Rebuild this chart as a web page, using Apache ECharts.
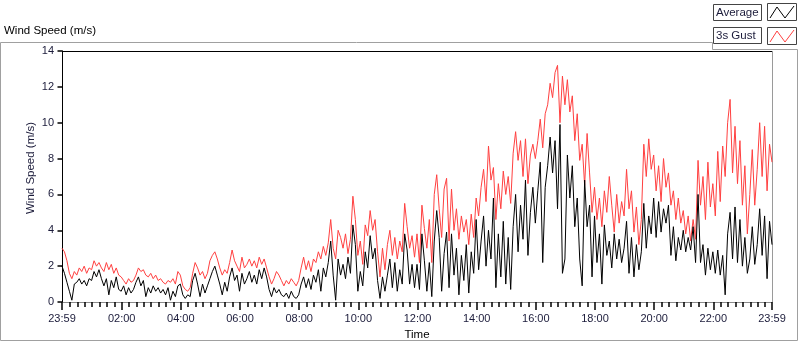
<!DOCTYPE html>
<html><head><meta charset="utf-8">
<script src="https://cdn.jsdelivr.net/npm/echarts@6/dist/echarts.min.js"></script>
<style>html,body{margin:0;padding:0;background:#fff}#c{width:800px;height:342px}</style>
</head><body><div id="c"></div>
<script>
const titleText = 'Wind Speed (m/s)';
const xAxisName = 'Time';
const yAxisName = 'Wind Speed (m/s)';
const seriesNames = ['Average', '3s Gust'];
const startMinute = -1;
const stepMinutes = 5;
const xLabelMinutes = [-1, 120, 240, 360, 480, 600, 720, 840, 960, 1080, 1200, 1320, 1439];
const yMin = 0, yMax = 14, yStep = 2;

const avg = [
2.0,1.6,1.1,0.6,0.1,1.0,1.1,1.3,1.0,1.2,0.9,1.3,
1.2,1.7,1.4,1.8,1.3,0.9,1.3,0.4,1.2,0.8,1.4,0.7,
0.6,0.9,0.4,0.8,0.5,0.7,1.1,1.4,0.9,1.2,0.3,0.8,
0.5,0.9,0.6,0.8,0.5,0.7,0.4,0.8,0.1,0.6,0.3,0.9,
1.0,0.4,0.2,0.4,0.3,1.2,1.6,1.0,0.3,1.0,0.5,0.9,
1.3,1.7,2.0,1.5,1.0,0.4,1.1,0.6,1.4,1.9,1.2,1.5,
0.6,1.6,1.0,1.3,1.7,1.1,1.5,1.0,1.8,1.3,1.9,1.4,
0.7,0.3,0.8,0.5,0.7,0.4,0.3,0.5,0.2,0.6,0.3,0.2,
0.4,1.0,1.4,0.8,1.3,0.7,1.5,1.1,1.8,0.6,1.9,1.4,
2.2,3.4,1.5,0.1,2.4,1.5,2.1,1.3,2.5,1.6,4.3,3.2,
0.6,1.7,0.9,2.8,1.9,3.7,2.4,3.0,1.2,0.2,1.4,0.6,
1.5,2.4,0.8,2.2,0.6,1.8,1.0,3.8,2.9,1.0,2.1,0.8,
2.1,0.7,3.8,2.3,0.6,2.2,0.3,3.4,5.1,3.6,0.6,2.7,
3.9,0.8,3.8,1.5,3.0,0.4,2.6,1.2,3.2,0.5,2.8,1.6,
4.6,1.8,3.4,4.8,2.0,4.0,2.4,5.8,0.8,3.8,1.4,4.5,
1.0,3.6,0.7,4.2,6.0,2.8,5.4,3.5,6.8,2.6,5.0,6.4,
4.4,6.2,7.8,2.2,6.4,7.6,9.2,7.2,9.0,5.2,9.9,1.6,
2.4,8.2,5.8,7.6,4.2,5.8,2.4,0.9,6.8,4.2,5.4,1.4,
4.8,2.2,3.8,1.0,4.3,2.6,3.4,1.9,3.8,2.4,3.5,2.2,
3.0,4.5,1.6,3.6,1.4,3.2,1.8,2.8,5.5,3.0,4.8,3.8,
5.8,3.6,5.6,3.9,5.2,4.4,5.4,2.6,4.2,2.3,3.6,2.9,
4.0,2.8,3.6,2.9,4.2,2.2,6.0,2.2,3.2,1.5,3.0,1.8,
2.8,1.6,2.9,1.5,2.6,0.4,3.8,5.0,2.4,5.3,2.2,4.6,
2.0,3.6,1.6,2.4,4.2,2.1,3.2,5.2,2.6,4.8,1.3,4.5,3.2
];

const gust = [
3.0,2.8,2.3,1.6,1.3,1.7,1.5,1.9,1.7,2.0,1.6,1.9,
1.8,2.3,2.0,2.2,1.9,1.7,2.2,1.8,2.1,1.6,1.9,1.5,
1.4,1.2,1.0,1.3,1.1,1.2,1.5,1.9,1.7,1.8,1.5,1.4,
1.6,1.3,1.5,1.2,1.3,1.1,1.0,1.2,1.1,1.3,1.0,1.7,
1.5,0.9,0.7,0.6,0.8,1.6,2.2,1.9,1.5,1.7,1.3,1.6,
2.3,2.6,2.8,2.4,1.9,1.5,1.8,1.6,2.2,2.9,2.3,2.0,
1.7,2.5,1.9,2.1,2.4,2.0,2.3,1.9,2.5,2.1,2.4,1.9,
1.4,1.0,1.3,1.7,1.5,1.2,0.9,1.2,1.0,1.3,1.1,0.9,
1.2,1.9,2.5,1.8,2.3,1.7,2.4,2.2,2.8,2.4,3.1,2.6,
3.3,4.6,3.0,2.4,4.0,3.6,3.0,3.8,2.7,3.5,5.9,4.6,
2.6,3.4,2.1,4.3,3.7,5.1,4.0,4.6,2.8,1.4,3.0,1.8,
3.2,4.0,2.6,3.6,2.4,3.4,2.8,5.5,4.2,3.0,3.7,2.5,
3.8,2.2,5.4,4.1,3.0,4.6,2.2,6.0,7.1,5.2,3.6,6.3,
6.9,3.4,6.3,4.0,5.2,3.5,4.8,3.9,4.6,3.2,4.9,3.6,
5.8,4.8,6.4,7.4,5.6,8.7,6.8,7.5,4.6,6.6,5.2,7.3,
6.0,7.0,5.5,8.3,9.5,7.9,9.0,7.0,9.1,6.6,8.2,8.8,
8.0,9.0,10.2,8.6,10.5,11.0,12.2,11.4,12.8,13.2,10.0,12.6,
11.0,12.4,10.6,11.5,9.0,10.5,7.9,8.8,6.5,9.4,7.2,5.0,
6.4,4.6,5.8,4.2,6.2,5.0,7.0,5.4,3.9,6.0,4.4,5.6,
4.8,7.4,5.2,6.2,3.9,5.3,3.2,4.6,8.8,7.0,9.1,7.4,
8.2,6.2,7.6,5.6,8.0,6.4,7.2,5.4,6.2,4.6,5.8,4.4,
5.1,3.8,4.8,3.4,4.6,3.5,7.9,5.4,7.0,4.6,7.8,5.3,
6.6,4.8,8.4,5.6,8.7,7.0,10.0,11.3,7.2,9.8,6.6,9.0,
5.4,7.6,3.8,6.0,8.5,5.4,7.4,10.0,7.0,9.8,6.2,8.8,7.8
];

const allTickMinutes = [-1];
for (let m = 15; m < 1439; m += 15) allTickMinutes.push(m);
allTickMinutes.push(1439);

function toPairs(arr) { return arr.map((v, i) => [startMinute + i * stepMinutes, v]); }
function fmtTime(m) {
  const mm = ((Math.round(m) % 1440) + 1440) % 1440;
  const h = Math.floor(mm / 60), mi = mm % 60;
  return String(h).padStart(2, '0') + ':' + String(mi).padStart(2, '0');
}

const FONT = 'Liberation Sans';
const LABEL = '#1b1b3a';
const chart = echarts.init(document.getElementById('c'), null, {renderer: 'canvas'});
chart.setOption({
  animation: false,
  backgroundColor: '#fff',
  grid: {left: 62, right: 28, top: 51, bottom: 40, containLabel: false, outerBoundsMode: 'none'},
  xAxis: [{
    type: 'value', min: -1, max: 1439,
    name: xAxisName, nameLocation: 'middle', nameGap: 27,
    nameTextStyle: {color: '#000', fontFamily: FONT, fontSize: 11.5},
    axisLine: {show: true, onZero: false, lineStyle: {color: '#8a8a8a', width: 1}},
    axisTick: {show: true, customValues: allTickMinutes, length: 5, lineStyle: {color: '#000', width: 1.5}},
    axisLabel: {show: true, customValues: xLabelMinutes, formatter: v => fmtTime(v), margin: 11,
      color: LABEL, fontFamily: FONT, fontSize: 11, showMinLabel: true, showMaxLabel: true},
    splitLine: {show: false}
  }, {
    type: 'value', min: -1, max: 1439, position: 'bottom',
    axisLine: {show: false, onZero: false},
    axisTick: {show: true, customValues: xLabelMinutes, length: 8, lineStyle: {color: '#000', width: 1.5}},
    axisLabel: {show: false},
    splitLine: {show: false}
  }],
  yAxis: {
    type: 'value', min: yMin, max: yMax, interval: yStep,
    axisLine: {show: true, lineStyle: {color: '#000', width: 1}},
    axisTick: {show: true, length: 5, lineStyle: {color: '#000', width: 1.5}},
    axisLabel: {margin: 8, color: LABEL, fontFamily: FONT, fontSize: 11},
    splitLine: {show: false}
  },
  series: [{
    name: seriesNames[1], type: 'line', data: toPairs(gust), xAxisIndex: 0,
    showSymbol: false, symbol: 'none', z: 2,
    lineStyle: {color: '#ff4040', width: 1}, itemStyle: {color: '#ff4040'}
  }, {
    name: seriesNames[0], type: 'line', data: toPairs(avg), xAxisIndex: 0,
    showSymbol: false, symbol: 'none', z: 3,
    lineStyle: {color: '#000', width: 1}, itemStyle: {color: '#000'}
  }],
  graphic: [
    {type: 'polyline', silent: true, z: -10, shape: {points: [[0.5,340.5],[0.5,42.5],[712.5,42.5],[712.5,49.5],[797.5,49.5],[797.5,340.5],[0.5,340.5]]},
      style: {stroke: '#a0a0a0', fill: 'none', lineWidth: 1}},
    {type: 'line', silent: true, shape: {x1: 62, y1: 51.5, x2: 772, y2: 51.5}, style: {stroke: '#000', lineWidth: 1}},
    {type: 'line', silent: true, shape: {x1: 772.5, y1: 51, x2: 772.5, y2: 302}, style: {stroke: '#9a9a9a', lineWidth: 1}},
    {type: 'text', silent: true, x: 4, y: 31, style: {text: titleText, fill: '#000', font: '11.5px "' + FONT + '"', textAlign: 'left', textVerticalAlign: 'middle'}},
    {type: 'text', silent: true, x: 31, y: 168, rotation: Math.PI / 2, style: {text: yAxisName, fill: LABEL, font: '11.5px "' + FONT + '"', textAlign: 'center', textVerticalAlign: 'middle'}},
    {type: 'rect', silent: true, shape: {x: 713.5, y: 4.5, width: 48, height: 16}, style: {stroke: '#444', fill: '#fff', lineWidth: 1}},
    {type: 'text', silent: true, x: 716, y: 13, style: {text: seriesNames[0], fill: LABEL, font: '11.5px "' + FONT + '"', textAlign: 'left', textVerticalAlign: 'middle'}},
    {type: 'rect', silent: true, shape: {x: 767.5, y: 3.5, width: 29, height: 17}, style: {stroke: '#444', fill: '#fff', lineWidth: 1}},
    {type: 'polyline', silent: true, shape: {points: [[770,18],[777,7],[785,18],[794,6]]}, style: {stroke: '#000', fill: 'none', lineWidth: 1}},
    {type: 'rect', silent: true, shape: {x: 713.5, y: 27.5, width: 48, height: 16}, style: {stroke: '#444', fill: '#fff', lineWidth: 1}},
    {type: 'text', silent: true, x: 716, y: 36, style: {text: seriesNames[1], fill: LABEL, font: '11.5px "' + FONT + '"', textAlign: 'left', textVerticalAlign: 'middle'}},
    {type: 'rect', silent: true, shape: {x: 767.5, y: 27.5, width: 29, height: 17}, style: {stroke: '#444', fill: '#fff', lineWidth: 1}},
    {type: 'polyline', silent: true, shape: {points: [[770,42],[777,31],[785,42],[794,30]]}, style: {stroke: '#ff4040', fill: 'none', lineWidth: 1}}
  ]
});
</script></body></html>
